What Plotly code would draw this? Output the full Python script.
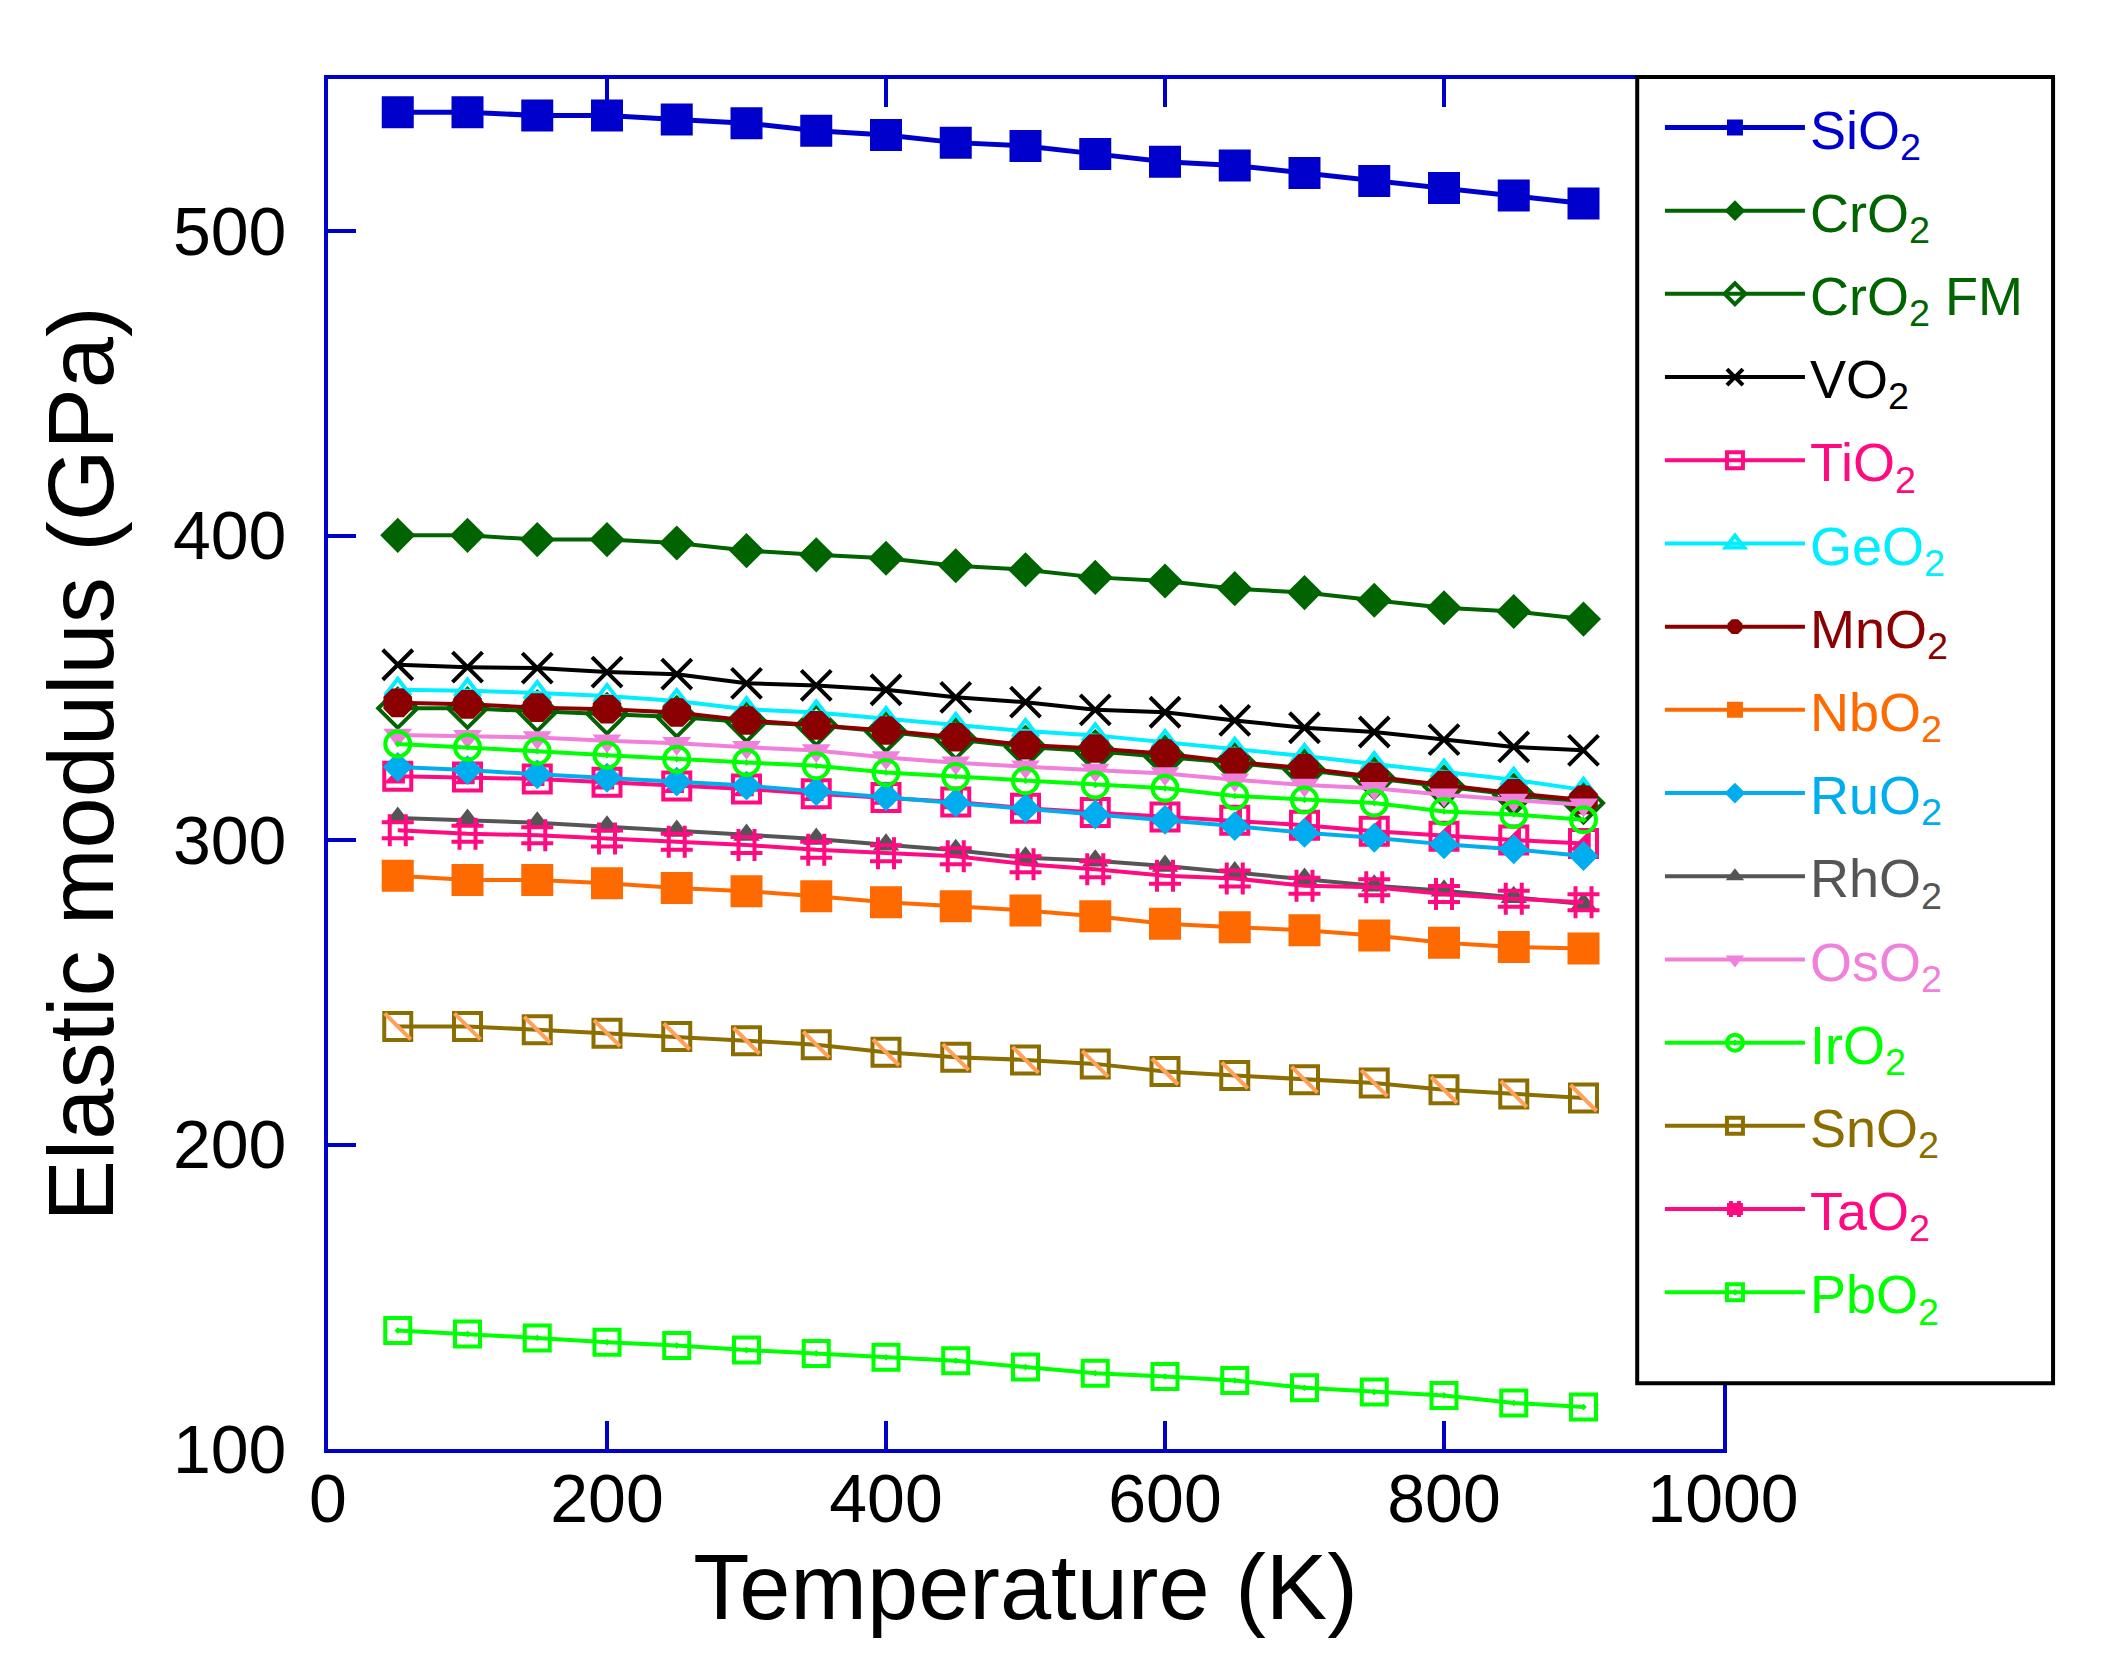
import plotly.graph_objects as go

# temperature grid (K)
temperature = [50, 100, 150, 200, 250, 300, 350, 400, 450,
               500, 550, 600, 650, 700, 750, 800, 850, 900]

# elastic modulus (GPa)
sio2 = [539.1, 539.1, 538.0, 538.0, 536.7, 535.5, 533.0, 531.6, 529.1,
        528.0, 525.4, 522.8, 521.6, 519.1, 516.5, 514.2, 511.7, 509.1]
cro2 = [400.1, 400.1, 398.7, 398.7, 397.6, 395.1, 393.7, 392.6, 390.1,
        388.8, 386.3, 385.1, 382.6, 381.3, 378.8, 376.3, 375.1, 372.6]
cro2_fm = [343.3, 343.3, 342.3, 341.4, 340.4, 338.8, 337.7, 335.6, 333.2,
           330.6, 329.2, 327.4, 325.4, 323.0, 320.3, 317.6, 314.9, 312.2]
vo2 = [357.6, 356.8, 356.5, 355.2, 354.5, 351.5, 350.8, 349.4, 346.9,
       345.3, 342.8, 342.0, 339.3, 336.9, 335.5, 333.0, 330.6, 329.5]
tio2 = [321.0, 320.7, 320.1, 319.0, 317.8, 316.8, 315.2, 314.0, 312.5,
        310.5, 309.1, 307.6, 306.5, 304.9, 302.9, 301.3, 300.0, 298.9]
geo2 = [349.4, 349.1, 348.3, 347.3, 345.7, 343.0, 341.9, 339.8, 337.8,
        335.8, 334.4, 332.2, 329.7, 327.6, 325.0, 322.5, 319.8, 316.5]
mno2 = [345.1, 344.6, 343.5, 343.0, 341.9, 339.3, 337.7, 336.0, 333.8,
        331.2, 330.1, 328.4, 325.7, 323.6, 320.8, 318.1, 315.4, 313.2]
nbo2 = [288.3, 286.9, 286.9, 285.8, 284.3, 283.2, 281.6, 279.6, 278.3,
        276.9, 275.0, 272.5, 271.4, 270.4, 268.7, 266.3, 264.9, 264.4]
ruo2 = [324.0, 323.0, 321.6, 320.5, 319.2, 317.9, 316.0, 314.4, 312.3,
        310.5, 308.4, 306.7, 304.6, 302.4, 300.8, 298.6, 297.0, 294.8]
rho2 = [307.3, 306.6, 305.7, 304.4, 303.0, 301.7, 300.4, 298.5, 296.7,
        294.2, 293.2, 291.5, 289.4, 287.2, 285.0, 283.4, 281.2, 279.0]
oso2 = [334.5, 334.1, 333.7, 332.6, 331.8, 330.5, 329.4, 327.1, 325.4,
        324.1, 323.0, 321.9, 319.8, 318.1, 317.0, 314.9, 313.2, 311.6]
iro2 = [331.6, 330.5, 329.2, 327.9, 326.6, 325.5, 324.4, 322.2, 320.9,
        319.5, 318.1, 317.0, 314.5, 313.2, 312.2, 309.4, 308.4, 306.7]
sno2 = [238.8, 238.8, 237.7, 236.6, 235.5, 234.1, 232.8, 230.3, 228.7,
        227.8, 226.5, 224.0, 222.7, 221.3, 220.2, 218.0, 216.6, 215.3]
tao2 = [303.2, 302.1, 301.6, 300.5, 299.5, 298.4, 296.8, 295.7, 294.7,
        292.1, 290.4, 288.3, 287.4, 285.0, 284.5, 282.3, 280.7, 279.6]
pbo2 = [138.9, 137.8, 136.5, 135.1, 134.0, 132.5, 131.4, 130.1, 129.0,
        126.9, 124.9, 123.8, 122.5, 120.1, 118.7, 117.6, 115.1, 113.8]

x_ticks = [0, 200, 400, 600, 800, 1000]
y_ticks = [100, 200, 300, 400, 500]

AXIS_BLUE = "#0000CD"
FONT = "Arial, Liberation Sans, sans-serif"

# formula, suffix, values, colour, symbol, marker size, open marker?
series = [
    ("SiO", "", sio2, "#0000CD", "square", 32, False),
    ("CrO", "", cro2, "#006400", "diamond", 27, False),
    ("CrO", " FM", cro2_fm, "#006400", "diamond-open", 30, True),
    ("VO", "", vo2, "#000000", "x-thin-open", 30, True),
    ("TiO", "", tio2, "#FF0A80", "square-open", 27, True),
    ("GeO", "", geo2, "#00EEFF", "triangle-up-open", 22, True),
    ("MnO", "", mno2, "#8B0000", "octagon", 31, False),
    ("NbO", "", nbo2, "#FF6A00", "square", 32, False),
    ("RuO", "", ruo2, "#00AEEF", "diamond", 23, False),
    ("RhO", "", rho2, "#555555", "triangle-up", 23, False),
    ("OsO", "", oso2, "#F080DC", "triangle-down", 25, False),
    ("IrO", "", iro2, "#00FF00", "circle-open-dot", 25, True),
    ("SnO", "", sno2, "#8C6E00", "square-open", 27, True),
    ("TaO", "", tao2, "#FF0A80", "hash-open", 32, True),
    ("PbO", "", pbo2, "#00FF00", "square-open-dot", 25, True),
]

fig = go.Figure()

for i, (base, suffix, vals, color, symbol, size, is_open) in enumerate(series):
    label = f"<span style='color:{color}'>{base}<sub>2</sub>{suffix}</span>"
    fig.add_trace(go.Scatter(
        x=temperature, y=vals, name=label, mode="lines+markers",
        legendgroup=f"g{i}",
        line=dict(color=color, width=5 if base == "SiO" else 4),
        marker=dict(symbol=symbol, size=size, color=color,
                    line=dict(color=color, width=4 if is_open else 0)),
    ))
    # half-filled TiO2 square and crossed SnO2 square need a second layer
    if base == "TiO":
        fig.add_trace(go.Scatter(
            x=temperature, y=vals, mode="markers", showlegend=False,
            legendgroup=f"g{i}",
            marker=dict(symbol="triangle-se", size=24, color=color),
        ))
    if base == "SnO":
        fig.add_trace(go.Scatter(
            x=temperature, y=vals, mode="markers", showlegend=False,
            legendgroup=f"g{i}",
            marker=dict(symbol="line-nw-open", size=26,
                        line=dict(color=color, width=4)),
        ))

axis_style = dict(
    showline=True, linecolor=AXIS_BLUE, linewidth=4, mirror="ticks",
    ticks="inside", ticklen=28, tickwidth=4, tickcolor=AXIS_BLUE,
    showgrid=False, zeroline=False,
    tickfont=dict(family=FONT, size=68, color="black"),
    title_font=dict(family=FONT, size=92, color="black"),
)

fig.update_xaxes(range=[0, 1000], tickvals=x_ticks,
                 title_text="Temperature (K)", title_standoff=18,
                 ticklabelstandoff=-13, **axis_style)
fig.update_yaxes(range=[100, 550], tickvals=y_ticks,
                 title_text="Elastic modulus (GPa)", title_standoff=30,
                 ticklabelstandoff=24, **axis_style)

# legend frame, drawn as a box so its size can follow the reference
fig.add_shape(type="rect", xref="paper", yref="paper",
              x0=0.9385, x1=1.2366, y0=0.048, y1=1.0015,
              fillcolor="white", line=dict(color="black", width=4),
              layer="above")

fig.update_layout(
    width=2111, height=1672,
    margin=dict(l=320, r=396, t=71, b=231),
    plot_bgcolor="white", paper_bgcolor="white",
    font=dict(family=FONT),
    legend=dict(
        x=0.9548, y=0.995, xanchor="left", yanchor="top",
        bgcolor="rgba(0,0,0,0)", borderwidth=0,
        font=dict(family=FONT, size=54),
        itemwidth=140, tracegroupgap=10,
    ),
)

fig.write_html("out.html")
